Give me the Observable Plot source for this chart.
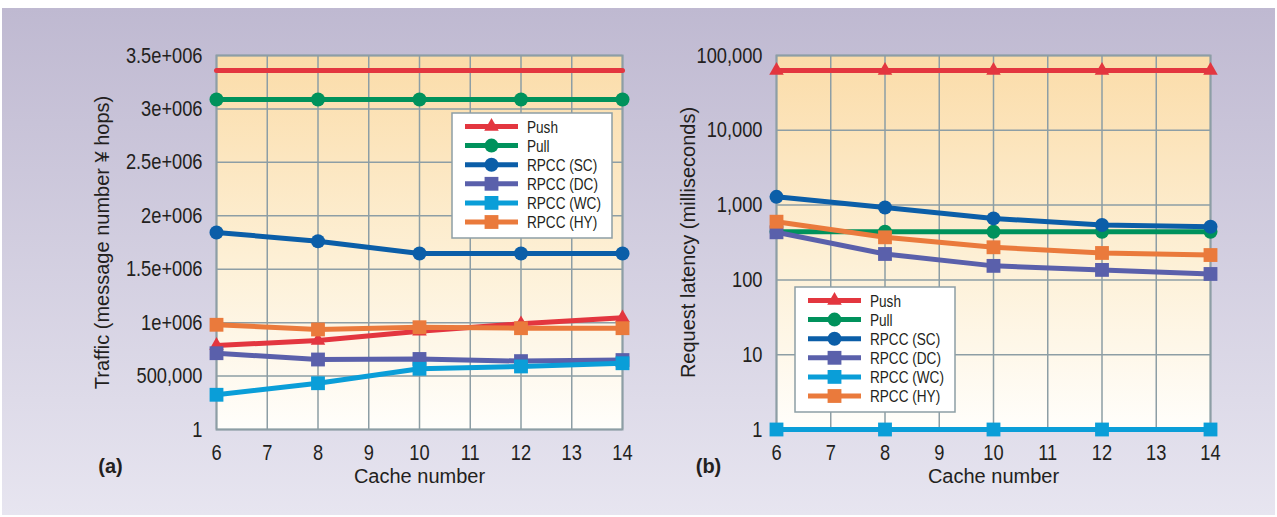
<!DOCTYPE html>
<html><head><meta charset="utf-8">
<script src="https://cdn.jsdelivr.net/npm/d3@7"></script>
<script src="https://cdn.jsdelivr.net/npm/@observablehq/plot@0.6"></script>
<style>
body{margin:0;background:#fff;}
#wrap{position:relative;width:1277px;height:517px;overflow:hidden;font-family:"Liberation Sans",Arial,sans-serif;}
#bg{position:absolute;left:2px;top:8px;width:1273px;height:507px;background:linear-gradient(#bfb9d1,#e7e5f0);}
.chart{position:absolute;top:0;}
.chart svg{overflow:visible;}
.legend{position:absolute;}
</style></head>
<body><div id="wrap"><div id="bg"></div>
<div class="chart" id="chartA" style="left:0px"></div>
<div class="chart" id="chartB" style="left:640px"></div>
<svg class="legend" id="legA" style="left:451px;top:112px" width="162" height="127"></svg>
<svg class="legend" id="legB" style="left:794px;top:286px" width="162" height="127"></svg>
</div>
<script>
const cacheNumbers = [6, 8, 10, 12, 14];
const seriesNames = ["Push", "Pull", "RPCC (SC)", "RPCC (DC)", "RPCC (WC)", "RPCC (HY)"];
const seriesColors = ["#e3363f", "#00925c", "#0b5ea8", "#5a60ab", "#0a9ed8", "#ea7a3c"];
const seriesSymbols = ["triangle", "circle", "circle", "square", "square", "square"];

// (a) Traffic
const trafficPushTop = [3360000, 3360000, 3360000, 3360000, 3360000];
const trafficPush = [786000, 833000, 920000, 989000, 1045000];
const trafficPull = [3088000, 3088000, 3088000, 3088000, 3088000];
const trafficSC = [1844000, 1762000, 1647000, 1647000, 1647000];
const trafficDC = [714000, 655000, 660000, 640000, 650000];
const trafficWC = [325000, 433000, 568000, 590000, 620000];
const trafficHY = [980000, 936000, 957000, 948000, 948000];
const trafficTicks = [0, 500000, 1000000, 1500000, 2000000, 2500000, 3000000, 3500000];
const trafficTickLabels = ["1", "500,000", "1e+006", "1.5e+006", "2e+006", "2.5e+006", "3e+006", "3.5e+006"];

// (b) Request latency
const latencyPush = [63000, 63000, 63000, 63000, 63000];
const latencyPull = [440, 440, 440, 440, 440];
const latencySC = [1290, 930, 664, 541, 514];
const latencyDC = [433, 222, 154, 136, 120];
const latencyWC = [1, 1, 1, 1, 1];
const latencyHY = [600, 371, 273, 229, 215];
const latencyTicks = [1, 10, 100, 1000, 10000, 100000];
const latencyTickLabels = ["1", "10", "100", "1,000", "10,000", "100,000"];

const xTicks = [6, 7, 8, 9, 10, 11, 12, 13, 14];

const FONT = '"Liberation Sans",Arial,sans-serif';
const GRID = "#8d9ea5";
const INK = "#231f20";
const symR = {triangle: 5.4, circle: 7, square: 7.8};

function rows(values) { return cacheNumbers.map((c, i) => ({x: c, y: values[i]})); }

// horizontally condense text around its anchor point (x only)
function condense(nodes, s) {
  nodes.forEach((t) => {
    let x = parseFloat(t.getAttribute("x"));
    if (!isFinite(x)) x = 0;
    const tr = t.getAttribute("transform") || "";
    t.setAttribute("transform", `${tr} translate(${x},0) scale(${s},1) translate(${-x},0)`);
  });
}

function makeChart({id, gradId, width, marginLeft, marginRight, yOpts, seriesValues, extraLines, yLabel, panel, yLabelDx, panelDx}) {
  const marks = [
    Plot.frame({fill: `url(#${gradId})`}),
    Plot.gridX(xTicks, {stroke: GRID, strokeOpacity: 1, strokeWidth: 1.5}),
    Plot.gridY(yOpts.ticks, {stroke: GRID, strokeOpacity: 1, strokeWidth: 1.5}),
    Plot.frame({stroke: GRID, strokeWidth: 2}),
    Plot.axisX(xTicks, {tickSize: 0, tickPadding: 15, fontSize: 22, fill: INK, label: null}),
    Plot.axisY(yOpts.ticks, {tickSize: 0, tickPadding: 14, fontSize: 22, fill: INK, label: null, tickFormat: yOpts.tickFormat}),
  ];
  for (const e of extraLines) {
    marks.push(Plot.line(rows(e.values), {x: "x", y: "y", stroke: e.color, strokeWidth: 5}));
  }
  seriesValues.forEach((vals, i) => {
    const data = rows(vals);
    marks.push(Plot.line(data, {x: "x", y: "y", stroke: seriesColors[i], strokeWidth: 5}));
    marks.push(Plot.dot(data, {x: "x", y: "y", fill: seriesColors[i], stroke: "none", symbol: seriesSymbols[i], r: symR[seriesSymbols[i]]}));
  });
  marks.push(Plot.text([yLabel], {ariaLabel: "ytitle", frameAnchor: "left", dx: yLabelDx, rotate: -90, textAnchor: "middle", lineAnchor: "middle", fontSize: 20, fill: INK}));
  marks.push(Plot.text(["Cache number"], {ariaLabel: "xtitle", frameAnchor: "bottom", dy: 47, textAnchor: "middle", lineAnchor: "middle", fontSize: 20, fill: INK}));
  marks.push(Plot.text([panel], {ariaLabel: "panel", frameAnchor: "bottom-left", dx: panelDx, dy: 37, textAnchor: "middle", lineAnchor: "middle", fontSize: 20, fontWeight: "bold", fill: INK}));

  const svg = Plot.plot({
    width, height: 517, marginLeft, marginRight, marginTop: 55, marginBottom: 88,
    style: {background: "transparent", fontFamily: FONT, color: INK, overflow: "visible"},
    x: {domain: [6, 14]},
    y: yOpts.scale,
    marks
  });
  d3.select(svg).insert("defs", ":first-child").html(
    `<linearGradient id="${gradId}" x1="0" y1="0" x2="0" y2="1">
       <stop offset="0" stop-color="#fbdca9"/><stop offset="0.55" stop-color="#fdf0d6"/><stop offset="1" stop-color="#fffefb"/>
     </linearGradient>`);
  document.getElementById(id).appendChild(svg);
  condense(svg.querySelectorAll('[aria-label="x-axis tick label"] text'), 0.83);
  condense(svg.querySelectorAll('[aria-label="y-axis tick label"] text'), 0.83);
  condense(svg.querySelectorAll('[aria-label="xtitle"] text'), 0.88);
  condense(svg.querySelectorAll('[aria-label="ytitle"] text'), 1.02);
  condense(svg.querySelectorAll('[aria-label="panel"] text'), 0.85);
}

makeChart({
  id: "chartA", gradId: "gradA", width: 640, marginLeft: 216, marginRight: 18,
  yOpts: {scale: {domain: [0, 3500000]}, ticks: trafficTicks, tickFormat: (d) => trafficTickLabels[trafficTicks.indexOf(d)]},
  seriesValues: [trafficPush, trafficPull, trafficSC, trafficDC, trafficWC, trafficHY],
  extraLines: [{values: trafficPushTop, color: seriesColors[0]}],
  yLabel: "Traffic (message number ¥ hops)", panel: "(a)", yLabelDx: -114, panelDx: -106
});

makeChart({
  id: "chartB", gradId: "gradB", width: 637, marginLeft: 136, marginRight: 67,
  yOpts: {scale: {type: "log", domain: [1, 100000]}, ticks: latencyTicks, tickFormat: (d) => latencyTickLabels[latencyTicks.indexOf(d)]},
  seriesValues: [latencyPush, latencyPull, latencySC, latencyDC, latencyWC, latencyHY],
  extraLines: [],
  yLabel: "Request latency (milliseconds)", panel: "(b)", yLabelDx: -88, panelDx: -68
});

function makeLegend(id) {
  const svg = d3.select("#" + id);
  svg.append("rect").attr("x", 1).attr("y", 1).attr("width", 160).attr("height", 125)
    .attr("fill", "#fff").attr("stroke", GRID).attr("stroke-width", 1.5);
  const symType = {triangle: d3.symbolTriangle, circle: d3.symbolCircle, square: d3.symbolSquare};
  seriesNames.forEach((name, i) => {
    const y = 14.5 + i * 19.1;
    svg.append("line").attr("x1", 14).attr("x2", 67).attr("y1", y).attr("y2", y)
      .attr("stroke", seriesColors[i]).attr("stroke-width", 5);
    const r = symR[seriesSymbols[i]];
    svg.append("path").attr("transform", `translate(40.5,${y})`)
      .attr("d", d3.symbol(symType[seriesSymbols[i]], Math.PI * r * r)())
      .attr("fill", seriesColors[i]);
    svg.append("text").attr("x", 76).attr("y", y).attr("dy", "0.36em")
      .attr("font-family", FONT).attr("font-size", 17).attr("fill", INK).text(name);
  });
  condense(svg.node().querySelectorAll("text"), 0.8);
}
makeLegend("legA");
makeLegend("legB");
</script>
</body></html>
